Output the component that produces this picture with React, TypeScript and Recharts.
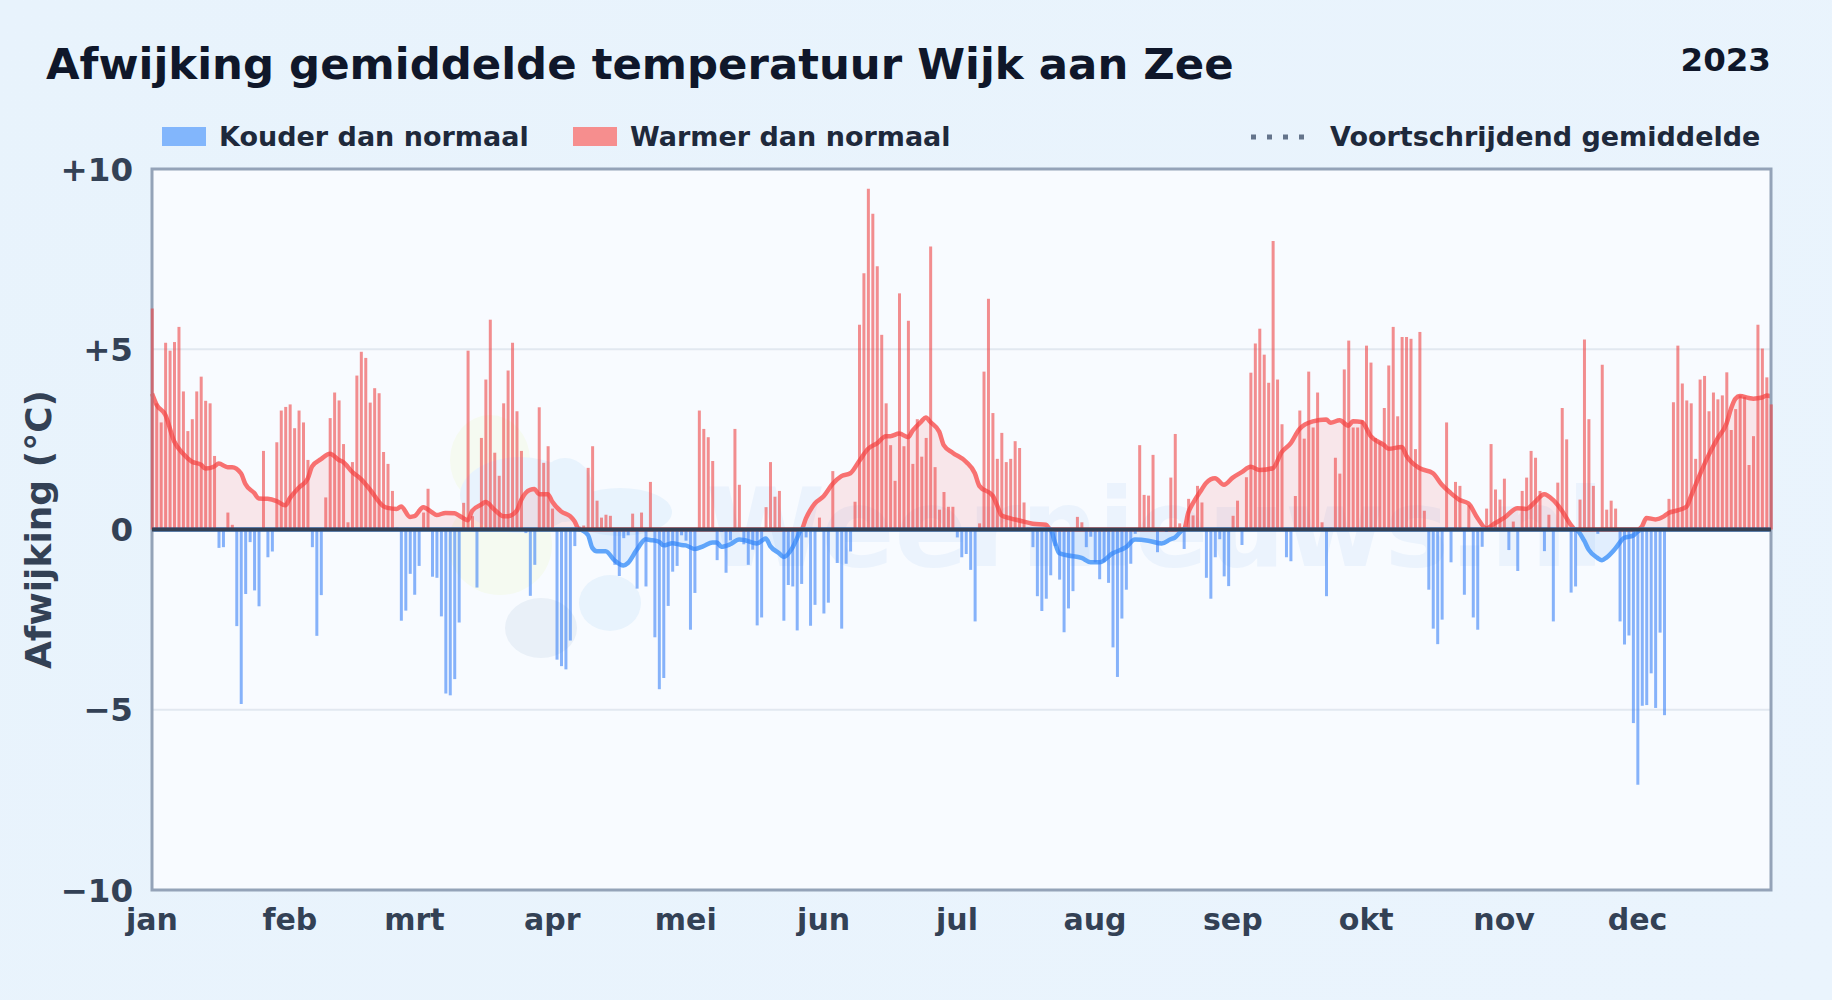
import {
  ComposedChart,
  Bar,
  Area,
  XAxis,
  YAxis,
  CartesianGrid,
  ReferenceLine,
  ReferenceArea,
} from 'recharts';

const monthNames = ['jan', 'feb', 'mrt', 'apr', 'mei', 'jun', 'jul', 'aug', 'sep', 'okt', 'nov', 'dec'];
const monthTicks = [0, 31, 59, 90, 120, 151, 181, 212, 243, 273, 304, 334];
const yTicks = [-10, -5, 0, 5, 10];

// daily deviation, one value per day of 2023
const janValues = [6.13, 3.5, 2.97, 5.18, 4.96, 5.2, 5.62, 3.83, 2.73, 3.06, 3.83, 4.24, 3.57, 3.5, 2.04, -0.51, -0.49, 0.47, 0.13, -2.68, -4.84, -1.79, -0.35, -1.69, -2.13, 2.18, -0.77, -0.61, 2.42, 3.3, 3.4];
const febValues = [3.47, 2.81, 3.3, 2.97, 1.93, -0.49, -2.95, -1.82, 0.89, 3.09, 3.8, 3.58, 2.37, 0.2, 1.87, 4.27, 4.93, 4.76, 3.52, 3.92, 3.78, 2.15, 1.82, 1.07, 0.05, -2.53, -2.25, -1.23];
const mrtValues = [-1.81, -1.01, 0.47, 1.13, -1.31, -1.34, -2.41, -4.55, -4.6, -4.15, -2.58, 0.74, 4.96, 0.37, -1.61, 2.54, 4.16, 5.82, 2.13, 1.49, 3.5, 4.41, 5.18, 3.28, 2.18, -0.1, -1.84, -0.98, 3.39, 1.85, 2.31];
const aprValues = [0.58, -3.61, -3.79, -3.88, -3.08, -0.46, 0.08, 0.11, 1.71, 2.31, 0.8, 0.33, 0.41, 0.38, -0.98, -1.29, -0.24, -0.16, 0.44, -1.64, 0.47, -1.58, 1.32, -2.99, -4.43, -4.12, -2.12, -1.17, -1.01, -0.16];
const meiValues = [-0.31, -2.78, -1.76, 3.3, 2.79, 2.56, 1.9, -0.85, -0.07, -1.2, -0.3, 2.79, 1.24, -0.41, -0.98, -0.56, -2.66, -2.44, 0.62, 1.87, 0.91, 1.07, -2.53, -1.54, -1.58, -2.8, -1.51, -0.22, -2.67, -2.09, 0.33];
const junValues = [-2.33, -2.03, 1.62, -0.93, -2.75, -0.95, -0.61, 0.77, 5.68, 7.11, 9.45, 8.76, 7.3, 5.4, 3.5, 2.34, 1.35, 6.55, 2.31, 5.79, 1.82, 3.06, 2.02, 2.54, 7.85, 1.73, 0.55, 1.04, 0.63, 0.63];
const julValues = [-0.22, -0.77, -0.68, -1.12, -2.55, 0.17, 4.38, 6.4, 3.23, 1.96, 2.68, 1.87, 1.96, 2.45, 2.26, 0.75, 0.05, -0.49, -1.85, -2.26, -1.92, -1.27, -0.46, -1.39, -2.85, -2.19, -1.71, 0.35, 0.2, -0.49, -0.2];
const augValues = [-0.91, -1.38, -0.91, -1.48, -3.27, -4.09, -2.47, -1.67, -0.95, -0.12, 2.34, 0.96, 0.94, 2.07, -0.63, 0.03, -0.07, 1.44, 2.65, 0.17, -0.54, 0.85, 0.39, 1.21, 0.75, -1.34, -1.92, -0.77, -0.27, -1.3, -1.57];
const sepValues = [0.38, 0.8, -0.43, 1.45, 4.35, 5.16, 5.57, 4.85, 4.07, 8.0, 4.16, 2.92, -0.77, -0.88, 0.93, 3.3, 2.52, 4.38, 2.83, 3.8, 0.2, -1.85, 0.05, 1.99, 1.55, 4.44, 5.24, 2.83, 2.83, 3.03];
const oktValues = [5.1, 4.63, 2.54, 2.44, 3.37, 4.55, 5.62, 3.14, 5.34, 5.34, 5.29, 2.23, 5.48, 0.52, -1.67, -2.75, -3.18, -2.5, 2.97, -0.91, 1.32, 1.21, -1.81, 0.67, -2.44, -2.78, -0.48, 0.58, 2.37, 1.11, 0.83];
const novValues = [1.41, -0.57, 0.22, -1.15, 1.07, 1.44, 2.18, 1.99, 1.07, -0.6, 0.41, -2.55, 1.3, 3.37, 2.5, -1.75, -1.58, 0.83, 5.27, 3.06, 1.21, -0.12, 4.57, 0.55, 0.8, 0.58, -2.55, -3.19, -2.94, -5.37];
const decValues = [-7.08, -4.89, -4.87, -3.99, -4.95, -2.86, -5.15, 0.85, 3.53, 5.1, 4.05, 3.58, 3.5, 1.96, 4.16, 4.26, 3.28, 3.8, 3.61, 3.72, 4.36, 2.76, 3.34, 3.72, 3.68, 1.79, 2.59, 5.68, 5.02, 4.22, 3.47];

const dailyValues = [
  ...janValues, ...febValues, ...mrtValues, ...aprValues, ...meiValues, ...junValues,
  ...julValues, ...augValues, ...sepValues, ...oktValues, ...novValues, ...decValues,
];

// moving average: day number and value
const avgDays = [0, 1, 3, 5, 7, 9, 11, 12, 14, 15, 17, 18, 20, 21, 23, 24, 26, 28, 30, 31, 33, 35, 36, 38, 40, 42, 43, 45, 47, 49, 52, 53, 55, 56, 58, 59, 61, 63, 64, 66, 68, 69, 71, 72, 74, 75, 77, 79, 80, 82, 83, 85, 86, 87, 89, 90, 92, 94, 95, 96, 98, 99, 100, 102, 104, 106, 107, 109, 111, 112, 114, 115, 117, 119, 120, 122, 124, 126, 127, 128, 130, 132, 133, 136, 138, 139, 141, 142, 144, 145, 146, 147, 149, 151, 153, 155, 157, 159, 161, 163, 165, 166, 168, 170, 171, 173, 174, 175, 177, 178, 180, 183, 185, 186, 189, 190, 191, 193, 195, 198, 201, 202, 203, 204, 206, 209, 211, 213, 216, 219, 221, 224, 227, 229, 230, 232, 233, 234, 236, 237, 239, 241, 243, 245, 247, 249, 252, 254, 256, 258, 261, 264, 265, 267, 269, 270, 272, 274, 277, 278, 281, 282, 285, 288, 290, 292, 294, 296, 298, 300, 302, 304, 307, 309, 311, 313, 315, 317, 319, 320, 322, 323, 325, 326, 327, 329, 331, 333, 334, 335, 336, 338, 340, 341, 343, 345, 346, 348, 350, 352, 354, 355, 356, 357, 359, 360, 362, 363, 364];
const avgValues = [3.77, 3.47, 3.18, 2.44, 2.1, 1.88, 1.8, 1.69, 1.75, 1.83, 1.73, 1.73, 1.56, 1.26, 1.01, 0.86, 0.85, 0.79, 0.67, 0.87, 1.16, 1.41, 1.75, 1.95, 2.1, 1.93, 1.87, 1.6, 1.4, 1.11, 0.65, 0.6, 0.57, 0.64, 0.35, 0.37, 0.62, 0.47, 0.4, 0.46, 0.45, 0.39, 0.26, 0.52, 0.69, 0.76, 0.55, 0.37, 0.37, 0.52, 0.82, 1.1, 1.12, 0.98, 0.98, 0.77, 0.5, 0.37, 0.23, 0, -0.15, -0.51, -0.6, -0.6, -0.86, -1.0, -0.93, -0.56, -0.27, -0.29, -0.34, -0.44, -0.38, -0.43, -0.44, -0.54, -0.46, -0.36, -0.36, -0.48, -0.41, -0.28, -0.29, -0.39, -0.25, -0.46, -0.66, -0.76, -0.5, -0.25, 0, 0.3, 0.72, 0.92, 1.26, 1.48, 1.56, 1.9, 2.24, 2.39, 2.59, 2.59, 2.66, 2.56, 2.74, 3.0, 3.11, 2.98, 2.71, 2.34, 2.13, 1.88, 1.56, 1.21, 0.94, 0.67, 0.39, 0.31, 0.25, 0.16, 0.13, 0, -0.36, -0.66, -0.72, -0.79, -0.91, -0.91, -0.66, -0.49, -0.28, -0.31, -0.39, -0.27, -0.22, 0, 0.47, 0.72, 1.11, 1.29, 1.42, 1.24, 1.44, 1.59, 1.74, 1.65, 1.7, 2.15, 2.39, 2.79, 3.0, 3.05, 2.96, 3.03, 2.88, 3.0, 2.98, 2.59, 2.34, 2.24, 2.29, 2.05, 1.7, 1.56, 1.24, 1.01, 0.82, 0.72, 0.32, 0.03, 0.18, 0.32, 0.59, 0.57, 0.77, 0.98, 0.82, 0.52, 0.13, 0, -0.31, -0.56, -0.79, -0.85, -0.78, -0.53, -0.23, -0.17, -0.06, 0.09, 0.32, 0.28, 0.37, 0.46, 0.53, 0.63, 0.92, 1.52, 2.07, 2.53, 2.94, 3.35, 3.63, 3.7, 3.65, 3.63, 3.66, 3.72, 3.69];

const avgByDay = new Map(avgDays.map((d, i) => [d, avgValues[i]]));

const chartData = dailyValues.map((v, day) => {
  const avg = avgByDay.get(day);
  return {
    day,
    warm: v > 0 ? v : 0,
    cold: v < 0 ? v : 0,
    avgWarm: avg === undefined ? null : Math.max(avg, 0),
    avgCold: avg === undefined ? null : Math.min(avg, 0),
  };
});

const font = '"DejaVu Sans", sans-serif';
const tickColor = '#334155';

function Legend() {
  const label = { position: 'absolute', top: 121, fontSize: 27, fontWeight: 700, color: '#1e293b', lineHeight: '32px', whiteSpace: 'nowrap' } as const;
  return (
    <>
      <div style={{ position: 'absolute', left: 162, top: 127, width: 44, height: 19, background: '#82b6fc' }} />
      <div style={{ ...label, left: 219 }}>Kouder dan normaal</div>
      <div style={{ position: 'absolute', left: 573, top: 127, width: 44, height: 19, background: '#f68e8e' }} />
      <div style={{ ...label, left: 630 }}>Warmer dan normaal</div>
      <svg width={60} height={8} style={{ position: 'absolute', left: 1251, top: 133 }}>
        <line x1={0} x2={60} y1={4} y2={4} stroke="#64748b" strokeWidth={5} strokeDasharray="5 11" />
      </svg>
      <div style={{ ...label, left: 1330 }}>Voortschrijdend gemiddelde</div>
    </>
  );
}

export default function App() {
  return (
    <div style={{ position: 'absolute', left: 0, top: 0, width: 1832, height: 1000, overflow: 'hidden', background: 'linear-gradient(135deg, #e8f3fc, #eaf4fd)', fontFamily: font }}>
      <div style={{ position: 'absolute', left: 46, top: 36, fontSize: 43.4, fontWeight: 700, color: '#0f172a', lineHeight: '56px', whiteSpace: 'nowrap' }}>
        Afwijking gemiddelde temperatuur Wijk aan Zee
      </div>
      <div style={{ position: 'absolute', right: 61, top: 40, fontSize: 32.5, fontWeight: 700, color: '#0f172a', lineHeight: '40px' }}>2023</div>
      <Legend />
      <div style={{ position: 'absolute', left: 152, top: 169, width: 1619, height: 721, background: '#f8fbff' }} />
      <svg width={1832} height={1000} style={{ position: 'absolute', left: 0, top: 0 }}>
        <g fill="#f5faf1">
          <ellipse cx={490} cy={460} rx={40} ry={45} />
          <ellipse cx={500} cy={545} rx={52} ry={50} />
        </g>
        <g fill="#e8f3fd">
          <ellipse cx={520} cy={495} rx={60} ry={38} />
          <ellipse cx={565} cy={490} rx={28} ry={32} />
          <ellipse cx={620} cy={512} rx={52} ry={24} />
          <ellipse cx={610} cy={603} rx={31} ry={28} />
        </g>
        <ellipse cx={541} cy={628} rx={36} ry={30} fill="#e9f0f8" />
        <text x={706} y={566} fontSize={108} fontWeight={700} fontFamily={font} fill="#ebf3fd">Weernieuws.nl</text>
      </svg>
      <ComposedChart
        width={1832}
        height={1000}
        data={chartData}
        stackOffset="sign"
        margin={{ top: 169, right: 61, bottom: 60, left: 0 }}
        style={{ position: 'absolute', left: 0, top: 0 }}
      >
        <CartesianGrid horizontal vertical={false} stroke="#e2e8f0" strokeWidth={2} />
        <XAxis
          dataKey="day"
          type="number"
          domain={[0, 364]}
          ticks={monthTicks}
          tickFormatter={(d: number) => monthNames[monthTicks.indexOf(d)]}
          tickLine={false}
          axisLine={false}
          tickMargin={13}
          height={50}
          interval={0}
          tick={{ fontSize: 30, fontWeight: 700, fill: tickColor, fontFamily: font }}
        />
        <YAxis
          type="number"
          domain={[-10, 10]}
          ticks={yTicks}
          tickFormatter={(v: number) => (v > 0 ? `+${v}` : v < 0 ? `\u2212${-v}` : '0')}
          tickLine={false}
          axisLine={false}
          tickMargin={13}
          interval={0}
          width={152}
          tick={{ fontSize: 32.5, fontWeight: 700, fill: tickColor, fontFamily: font }}
          label={{ value: 'Afwijking (\u00b0C)', angle: -90, position: 'insideLeft', offset: 38, style: { fontSize: 36, fontWeight: 700, fill: tickColor, fontFamily: font, textAnchor: 'middle' } }}
        />
        <Bar dataKey="warm" stackId="day" barSize={3} fill="#ef4444" fillOpacity={0.6} isAnimationActive={false} />
        <Bar dataKey="cold" stackId="day" barSize={3} fill="#3b82f6" fillOpacity={0.6} isAnimationActive={false} />
        <Area dataKey="avgWarm" type="monotone" connectNulls stroke="#f87171" strokeWidth={4.5} fill="#f87171" fillOpacity={0.15} dot={false} isAnimationActive={false} />
        <Area dataKey="avgCold" type="monotone" connectNulls stroke="#60a5fa" strokeWidth={4.5} fill="#60a5fa" fillOpacity={0.15} dot={false} isAnimationActive={false} />
        <ReferenceLine y={0} stroke="#334155" strokeWidth={4} />
        <ReferenceArea x1={0} x2={364} y1={-10} y2={10} fill="none" stroke="#94a3b8" strokeWidth={3} />
      </ComposedChart>
    </div>
  );
}
